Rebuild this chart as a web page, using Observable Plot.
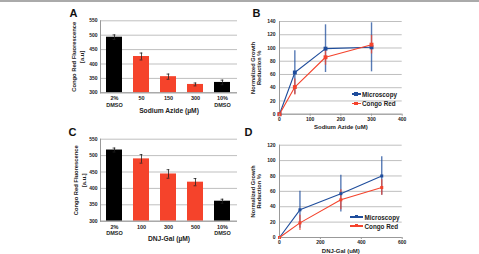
<!DOCTYPE html>
<html><head><meta charset="utf-8">
<script src="https://cdn.jsdelivr.net/npm/d3@7"></script>
<script src="https://cdn.jsdelivr.net/npm/@observablehq/plot@0.6"></script>
<style>
html,body{margin:0;padding:0;background:#fff;}
#fig{position:relative;width:479px;height:254px;overflow:hidden;background:#fff;font-family:"Liberation Sans",Arial,sans-serif;color:#222;}
#fig .panel{position:absolute;}
#fig .letter{position:absolute;font-weight:bold;font-size:11px;line-height:11px;color:#111;}
#fig .topline{position:absolute;left:0;top:0;width:479px;height:2px;background:#aaa;}
.legend{position:absolute;font-size:6.3px;font-weight:bold;color:#222;}
.legend .row{display:flex;align-items:center;}
.legend .sw{position:relative;height:1.4px;margin-right:1.5px;}
.legend .sw i{position:absolute;left:50%;top:50%;}
</style></head>
<body><div id="fig"><div class="topline"></div></div>
<script>
// ---- Data ----
const groupNames = ["DMSO control", "Treatment"];
const seriesNames = ["Microscopy", "Congo Red"];

// Panel A: Sodium Azide bar chart
const catsA = ["2%\nDMSO", "50", "150", "300", "10%\nDMSO"];
const valsA = [493, 426, 356, 329, 336];
const errsA = [8, 12, 9, 5, 8];
const groupsA = ["DMSO control", "Treatment", "Treatment", "Treatment", "DMSO control"];
const yTicksA = [300, 350, 400, 450, 500, 550];

// Panel C: DNJ-Gal bar chart
const catsC = ["2%\nDMSO", "100", "300", "500", "10%\nDMSO"];
const valsC = [517, 490, 444, 419, 361];
const errsC = [6, 13, 13, 11, 6];
const groupsC = ["DMSO control", "Treatment", "Treatment", "Treatment", "DMSO control"];
const yTicksC = [300, 350, 400, 450, 500, 550];

// Panel B: Sodium Azide growth reduction
const concB = [0, 50, 150, 300];
const micB = [0, 63, 99, 101];
const micErrB = [0, 33, 36, 37];
const congoB = [0, 41, 86, 105];
const congoErrB = [0, 12, 12, 14];
const xTicksB = [0, 100, 200, 300, 400];
const yTicksB = [0, 20, 40, 60, 80, 100, 120, 140];

// Panel D: DNJ-Gal growth reduction
const concD = [0, 100, 300, 500];
const micD = [0, 36, 57, 80];
const micErrD = [0, 24, 24, 25];
const congoD = [0, 19, 49, 65];
const congoErrD = [0, 10, 13, 10];
const xTicksD = [0, 200, 400, 600];
const yTicksD = [0, 20, 40, 60, 80, 100, 120];

// ---- Drawing ----
const FONT = "Liberation Sans, Arial, sans-serif";
const GRID = "#bfbfbf";
const AXIS = "#999999";
const BAR_COLORS = ["#000000", "#f5432b"];
const LINE_COLORS = ["#1f4d9c", "#f4432c"];
const fig = document.getElementById("fig");

function place(node, left, top, w, h) {
  const d = document.createElement("div");
  d.className = "panel";
  d.style.left = left + "px"; d.style.top = top + "px";
  d.style.width = w + "px"; d.style.height = h + "px";
  d.appendChild(node);
  fig.appendChild(d);
}

function barChart(o) {
  const rows = o.cats.map((c, i) => ({cat: c, v: o.vals[i], e: o.errs[i], g: o.groups[i]}));
  const y0 = o.yTicks[0];
  const capStyle = {stroke: "#222", strokeWidth: 0.8, insetLeft: 6.6, insetRight: 6.6};
  return Plot.plot({
    width: 240, height: o.height,
    marginLeft: 100, marginRight: 3, marginTop: o.mt, marginBottom: o.mb,
    style: {fontFamily: FONT, background: "transparent", overflow: "visible", color: "#222"},
    x: {domain: o.cats, paddingInner: 0.4, paddingOuter: 0.2, label: null},
    y: {domain: [y0, o.yTicks[o.yTicks.length - 1]], label: null},
    color: {domain: groupNames, range: BAR_COLORS},
    marks: [
      Plot.gridY(o.yTicks, {stroke: GRID, strokeOpacity: 1}),
      Plot.barY(rows, {x: "cat", y1: y0, y2: "v", fill: "g"}),
      Plot.ruleX(rows, {x: "cat", y1: d => d.v - d.e, y2: d => d.v + d.e, stroke: "#222", strokeWidth: 0.8}),
      Plot.tickY(rows, {x: "cat", y: d => d.v + d.e, ...capStyle}),
      Plot.tickY(rows, {x: "cat", y: d => d.v - d.e, ...capStyle}),
      Plot.ruleY([y0], {stroke: AXIS}),
      Plot.frame({anchor: "left", stroke: AXIS}),
      Plot.axisY(o.yTicks, {tickSize: 0, tickPadding: 3, fontSize: 5, fontWeight: "bold", label: null}),
      Plot.axisX({tickSize: 0, tickPadding: 3, fontSize: 5.5, fontWeight: "bold", lineHeight: 1.15, label: null}),
      Plot.text([o.xLabel], {text: d => d, frameAnchor: "bottom", dy: o.xLabelDy, fontSize: 6.7, fontWeight: "bold", textAnchor: "middle", lineAnchor: "middle", fill: "#222"}),
      Plot.text([o.yLabel], {text: d => d, frameAnchor: "left", rotate: -90, dx: o.yLabelDx, fontSize: 5.8, fontWeight: "bold", lineHeight: 1.35, textAnchor: "middle", lineAnchor: "middle", fill: "#222"})
    ]
  });
}

function lineChart(o) {
  const rows = [];
  o.series.forEach(s => s.vals.forEach((v, i) => rows.push({conc: o.conc[i], v, e: s.errs[i], s: s.name})));
  const ext = rows.filter(d => d.e > 0);
  return Plot.plot({
    width: 239, height: o.height,
    marginLeft: 39, marginRight: 77.3, marginTop: o.mt, marginBottom: o.mb,
    style: {fontFamily: FONT, background: "transparent", overflow: "visible", color: "#222"},
    x: {domain: [o.xTicks[0], o.xTicks[o.xTicks.length - 1]], label: null},
    y: {domain: [o.yTicks[0], o.yTicks[o.yTicks.length - 1]], label: null},
    color: {domain: seriesNames, range: LINE_COLORS},
    marks: [
      Plot.gridY(o.yTicks, {stroke: GRID, strokeOpacity: 1}),
      Plot.ruleY([o.yTicks[0]], {stroke: AXIS}),
      Plot.ruleX([o.xTicks[0]], {stroke: AXIS}),
      Plot.ruleX(ext, {x: "conc", y1: d => d.v - d.e, y2: d => d.v + d.e, stroke: "s", strokeWidth: 1.4, strokeOpacity: 0.75}),
      Plot.line(rows, {x: "conc", y: "v", stroke: "s", strokeWidth: 1.1}),
      Plot.dot(rows, {x: "conc", y: "v", fill: "s", symbol: "square", r: o.r}),
      Plot.axisY(o.yTicks, {tickSize: 0, tickPadding: 4, fontSize: 5, fontWeight: "bold", label: null}),
      Plot.axisX(o.xTicks, {tickSize: 2, tickPadding: 1, stroke: AXIS, fontSize: 5, fontWeight: "bold", label: null}),
      Plot.text([o.xLabel], {text: d => d, frameAnchor: "bottom", dy: o.xLabelDy, fontSize: 6, fontWeight: "bold", textAnchor: "middle", lineAnchor: "middle", fill: "#222"}),
      Plot.text([o.yLabel], {text: d => d, frameAnchor: "left", rotate: -90, dx: -23, fontSize: 5.7, fontWeight: "bold", lineHeight: 1.05, textAnchor: "middle", lineAnchor: "middle", fill: "#222"})
    ]
  });
}

function legend(left, top, rowH, lineW, markSize) {
  const d = document.createElement("div");
  d.className = "legend";
  d.style.left = left + "px"; d.style.top = top + "px";
  seriesNames.forEach((name, i) => {
    const r = document.createElement("div");
    r.className = "row"; r.style.height = rowH + "px";
    const sw = document.createElement("span");
    sw.className = "sw"; sw.style.width = lineW + "px"; sw.style.background = LINE_COLORS[i];
    const m = document.createElement("i");
    m.style.width = markSize + "px"; m.style.height = markSize + "px";
    m.style.margin = (-markSize / 2) + "px 0 0 " + (-markSize / 2) + "px";
    m.style.background = LINE_COLORS[i];
    sw.appendChild(m);
    const t = document.createElement("span");
    t.textContent = name;
    r.appendChild(sw); r.appendChild(t);
    d.appendChild(r);
  });
  fig.appendChild(d);
}

function letter(txt, left, top) {
  const d = document.createElement("div");
  d.className = "letter"; d.textContent = txt;
  d.style.left = left + "px"; d.style.top = top + "px";
  fig.appendChild(d);
}

place(barChart({cats: catsA, vals: valsA, errs: errsA, groups: groupsA, yTicks: yTicksA,
  height: 127, mt: 20.3, mb: 34.7, xLabel: "Sodium Azide (µM)", xLabelDy: 17.7,
  yLabel: "Congo Red Fluorescence\n[a.u]", yLabelDx: -23}), 0, 0, 240, 127);

place(barChart({cats: catsC, vals: valsC, errs: errsC, groups: groupsC, yTicks: yTicksC,
  height: 127, mt: 11.7, mb: 33.3, xLabel: "DNJ-Gal (µM)", xLabelDy: 17.3,
  yLabel: "Congo Red Fluorescence\n[a.u.]", yLabelDx: -21}), 0, 127, 240, 127);

place(lineChart({conc: concB, series: [
    {name: seriesNames[0], vals: micB, errs: micErrB},
    {name: seriesNames[1], vals: congoB, errs: congoErrB}],
  xTicks: xTicksB, yTicks: yTicksB, height: 135, mt: 21, mb: 21.3, r: 2.2,
  xLabel: "Sodium Azide (uM)", xLabelDy: 13.3, yLabel: "Normalized Growth\nReduction %"}), 240, 0, 239, 135);

place(lineChart({conc: concD, series: [
    {name: seriesNames[0], vals: micD, errs: micErrD},
    {name: seriesNames[1], vals: congoD, errs: congoErrD}],
  xTicks: xTicksD, yTicks: yTicksD, height: 127, mt: 17.7, mb: 17, r: 1.7,
  xLabel: "DNJ-Gal (uM)", xLabelDy: 13.6, yLabel: "Normalized Growth\nReduction %"}), 240, 127, 239, 127);

legend(351.5, 89.4, 9.3, 9, 3.6);
legend(350, 212.5, 9, 13, 3);

letter("A", 69.5, 7.6);
letter("B", 252.5, 7.6);
letter("C", 68.5, 127.3);
letter("D", 244.5, 127.3);
</script></body></html>
